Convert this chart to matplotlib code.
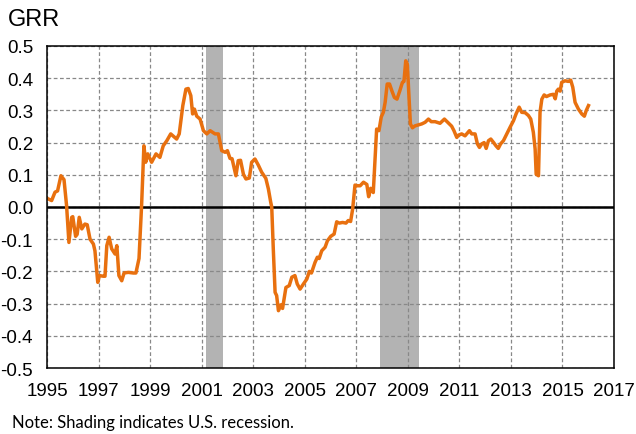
import matplotlib
matplotlib.use("Agg")
import matplotlib.pyplot as plt
import numpy as np

dates = [1995.0, 1995.18, 1995.31, 1995.41, 1995.54, 1995.66, 1995.76, 1995.85, 1995.96, 1996.0,
         1996.11, 1996.17, 1996.25, 1996.35, 1996.47, 1996.56, 1996.67, 1996.8, 1996.86, 1996.97,
         1997.03, 1997.19, 1997.25, 1997.32, 1997.41, 1997.51, 1997.64, 1997.71, 1997.79, 1997.9,
         1997.99, 1998.15, 1998.35, 1998.45, 1998.57, 1998.67, 1998.76, 1998.83, 1998.91, 1999.06,
         1999.23, 1999.38, 1999.51, 1999.65, 1999.8, 1999.9, 2000.03, 2000.13, 2000.27, 2000.39,
         2000.48, 2000.58, 2000.65, 2000.72, 2000.81, 2000.94, 2001.07, 2001.2, 2001.33, 2001.52,
         2001.65, 2001.78, 2001.91, 2002.0, 2002.1, 2002.18, 2002.33, 2002.42, 2002.51, 2002.62,
         2002.72, 2002.85, 2002.94, 2003.07, 2003.2, 2003.33, 2003.49, 2003.59, 2003.68, 2003.72,
         2003.78, 2003.85, 2003.91, 2003.98, 2004.07, 2004.14, 2004.27, 2004.4, 2004.5, 2004.62,
         2004.71, 2004.82, 2004.95, 2005.08, 2005.18, 2005.26, 2005.4, 2005.49, 2005.56, 2005.66,
         2005.79, 2005.88, 2006.01, 2006.14, 2006.24, 2006.34, 2006.47, 2006.6, 2006.69, 2006.78,
         2006.86, 2006.95, 2007.04, 2007.15, 2007.28, 2007.41, 2007.48, 2007.56, 2007.66, 2007.73,
         2007.79, 2007.88, 2007.97, 2008.05, 2008.12, 2008.2, 2008.29, 2008.38, 2008.48, 2008.58,
         2008.69, 2008.79, 2008.85, 2008.92, 2008.98, 2009.05, 2009.1, 2009.18, 2009.28, 2009.41,
         2009.54, 2009.67, 2009.8, 2009.91, 2010.06, 2010.25, 2010.42, 2010.56, 2010.7, 2010.79,
         2010.9, 2010.96, 2011.09, 2011.22, 2011.39, 2011.48, 2011.61, 2011.7, 2011.78, 2011.87,
         2011.96, 2012.04, 2012.13, 2012.22, 2012.33, 2012.42, 2012.51, 2012.6, 2012.71, 2012.84,
         2012.97, 2013.1, 2013.2, 2013.32, 2013.42, 2013.55, 2013.68, 2013.77, 2013.87, 2013.94,
         2013.98, 2014.07, 2014.13, 2014.2, 2014.29, 2014.38, 2014.52, 2014.65, 2014.72, 2014.78,
         2014.84, 2014.91, 2014.97, 2015.1, 2015.23, 2015.32, 2015.4, 2015.49, 2015.62, 2015.75,
         2015.85, 2015.92, 2016.01]

grr = [0.027, 0.02, 0.046, 0.05, 0.097, 0.085, 0.004, -0.11, -0.032, -0.03,
       -0.091, -0.085, -0.032, -0.068, -0.053, -0.055, -0.1, -0.115, -0.136, -0.234,
       -0.213, -0.215, -0.215, -0.12, -0.094, -0.13, -0.146, -0.12, -0.213, -0.229,
       -0.205, -0.203, -0.205, -0.205, -0.16, 0.004, 0.19, 0.139, 0.165, 0.139,
       0.165, 0.154, 0.19, 0.206, 0.227, 0.22, 0.211, 0.227, 0.315, 0.366,
       0.368, 0.346, 0.289, 0.304, 0.282, 0.273, 0.237, 0.227, 0.237, 0.227,
       0.227, 0.175, 0.17, 0.175, 0.151, 0.15, 0.097, 0.144, 0.145, 0.102,
       0.087, 0.09, 0.139, 0.149, 0.13, 0.108, 0.089, 0.056, 0.015, 0.0,
       -0.13, -0.265, -0.275, -0.322, -0.304, -0.315, -0.25, -0.244, -0.218, -0.213,
       -0.239, -0.255, -0.239, -0.224, -0.2, -0.205, -0.172, -0.156, -0.16, -0.136,
       -0.125, -0.105, -0.091, -0.084, -0.046, -0.05, -0.048, -0.05, -0.042, -0.045,
       -0.006, 0.068, 0.066, 0.066, 0.077, 0.07, 0.032, 0.058, 0.045, 0.149,
       0.242, 0.237, 0.28, 0.294, 0.325, 0.382, 0.382, 0.361, 0.34, 0.335,
       0.361, 0.387, 0.39, 0.454, 0.444, 0.335, 0.258, 0.246, 0.252, 0.255,
       0.258, 0.263, 0.273, 0.265, 0.265, 0.26, 0.273, 0.262, 0.251, 0.237,
       0.216, 0.223, 0.227, 0.221, 0.237, 0.227, 0.227, 0.196, 0.185, 0.196,
       0.2, 0.182, 0.206, 0.211, 0.2, 0.19, 0.182, 0.196, 0.206, 0.227,
       0.248, 0.268, 0.289, 0.31, 0.294, 0.293, 0.284, 0.273, 0.232, 0.18,
       0.102, 0.097, 0.294, 0.335, 0.348, 0.343, 0.348, 0.35, 0.336, 0.36,
       0.366, 0.36, 0.387, 0.392, 0.39, 0.394, 0.372, 0.325, 0.304, 0.289,
       0.282, 0.299, 0.315]

recessions = [(2001.17, 2001.83), (2007.92, 2009.42)]
x_ticks = list(range(1995, 2018, 2))
y_ticks = [-0.5, -0.4, -0.3, -0.2, -0.1, 0.0, 0.1, 0.2, 0.3, 0.4, 0.5]

plt.rcParams['font.family'] = ['Liberation Sans', 'DejaVu Sans']

fig = plt.figure(figsize=(6.36, 4.35), dpi=100)
ax = fig.add_axes([47/636, 1-369/435, (614-47)/636, (369-47)/435])

for a, b in recessions:
    ax.axvspan(a, b, color='#b3b3b3', lw=0, zorder=1)

ax.set_xlim(1995, 2017)
ax.set_ylim(-0.5, 0.5)
ax.set_xticks(x_ticks)
ax.set_yticks(y_ticks)
ax.set_xticklabels([str(t) for t in x_ticks])
ax.set_yticklabels([f"{t:.1f}" for t in y_ticks])
ax.grid(True, color='#888888', linestyle=(0, (3, 2)), linewidth=0.9, zorder=2)
ax.set_axisbelow(False)
ax.axhline(0, color='black', lw=1.8, zorder=3)
ax.plot(dates, grr, color='#e8700f', lw=2.5, zorder=4, solid_joinstyle='round')

ax.tick_params(length=0, labelsize=13.5, pad=10)
ax.tick_params(axis='y', pad=10)
for s in ax.spines.values():
    s.set_linewidth(1.1)
    s.set_color('black')
    s.set_zorder(5)

fig.text(8/636, 1-20/435, "GRR", fontsize=17, va='center', ha='left')
fig.text(12/636, 1-423/435, "Note: Shading indicates U.S. recession.", fontsize=12,
         va='center', ha='left', family=['Lato', 'DejaVu Sans'])

fig.savefig("out.png", dpi=100)
